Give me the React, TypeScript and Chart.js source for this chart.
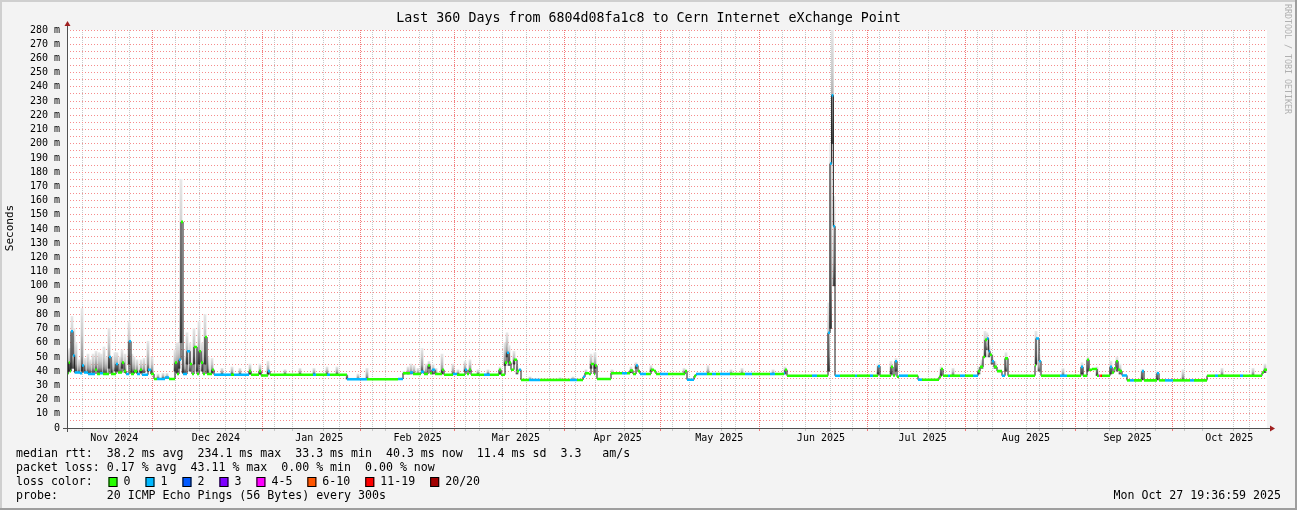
import React, { useEffect, useRef } from 'react';
import { Chart, registerables } from 'chart.js';

Chart.register(...registerables);

const WIDTH = 1297;
const HEIGHT = 510;
const FONT = '"DejaVu Sans Mono", monospace';

const TITLE = 'Last 360 Days from 6804d08fa1c8 to Cern Internet eXchange Point';
const Y_TITLE = 'Seconds';
const WATERMARK = 'RRDTOOL / TOBI OETIKER';
const STAT_LINES = [
  'median rtt:  38.2 ms avg  234.1 ms max  33.3 ms min  40.3 ms now  11.4 ms sd  3.3   am/s',
  'packet loss: 0.17 % avg  43.11 % max  0.00 % min  0.00 % now',
];
const LOSS_TITLE = 'loss color:';
const LOSS_LABELS = ['0', '1', '2', '3', '4-5', '6-10', '11-19', '20/20'];
const LOSS_COLORS = ['#26ff00', '#00b8ff', '#0059ff', '#7e00ff', '#ff00ff', '#ff5500', '#ff0000', '#a10000'];
const PROBE_LINE = 'probe:       20 ICMP Echo Pings (56 Bytes) every 300s';
const STAMP = 'Mon Oct 27 19:36:59 2025';

// time axis: days since start (Nov 1 2024 19:37), 360 days shown
const RANGE_DAYS = 360;
const START_MS = Date.UTC(2024, 10, 1, 19, 37);
const MONTH_LABELS = ['Nov 2024', 'Dec 2024', 'Jan 2025', 'Feb 2025', 'Mar 2025', 'Apr 2025',
  'May 2025', 'Jun 2025', 'Jul 2025', 'Aug 2025', 'Sep 2025', 'Oct 2025'];
const Y_MAX = 280;
const Y_STEP = 5;

// median rtt (ms) change points, step held until the next point
const medianDay = [
  0, 0.5, 0.9, 1.2, 1.8, 2.3, 3.9, 4.5, 5.1, 6.3,
  8.4, 9.0, 9.9, 10.8, 12.6, 13.2, 14.7, 15.3, 16.5, 17.1,
  17.7, 18.6, 19.2, 20.1, 21.0, 21.9, 22.5, 24.3, 25.2, 26.1,
  27.0, 29.4, 30.6, 32.4, 33.0, 33.6, 34.2, 34.8, 35.4, 36.0,
  36.9, 37.5, 38.1, 39.0, 39.6, 40.2, 40.8, 41.4, 42.0, 43.5,
  44.1, 49.2, 50.1, 54.6, 55.2, 57.6, 58.2, 60.3, 60.9, 73.8,
  74.7, 78.0, 78.9, 84.0, 90.0, 99.3, 100.8, 102.9, 103.8, 106.2,
  107.1, 108.3, 108.9, 109.5, 110.4, 112.5, 113.1, 115.8, 117.0, 119.4,
  120.0, 120.6, 121.2, 125.1, 126.9, 129.6, 130.2, 131.4, 132.0, 132.6,
  133.2, 134.1, 135.0, 135.6, 136.2, 138.6, 141.9, 150.9, 153.0, 154.8,
  155.4, 156.6, 157.2, 158.1, 158.4, 159.0, 163.2, 166.5, 168.0, 168.9,
  169.8, 170.7, 171.3, 171.9, 173.7, 175.2, 176.1, 176.7, 177.9, 180.3,
  185.4, 186.0, 188.1, 188.7, 192.0, 193.5, 194.7, 195.9, 198.9, 203.4,
  205.5, 210.9, 212.4, 215.1, 215.4, 216.0, 223.5, 225.0, 228.3, 228.9,
  229.4, 229.9, 230.4, 231.9, 236.4, 237.0, 240.9, 241.8, 243.3, 243.9,
  247.2, 247.8, 248.4, 249.0, 249.6, 252.3, 255.3, 256.5, 261.6, 262.2,
  262.8, 264.3, 264.9, 267.9, 269.4, 271.8, 273.3, 273.9, 274.8, 275.4,
  276.0, 276.5, 276.9, 277.5, 278.1, 279.0, 280.5, 281.4, 282.3, 290.4,
  290.7, 291.6, 292.2, 297.9, 300.0, 304.2, 304.8, 306.0, 306.6, 307.5,
  309.0, 309.6, 309.9, 310.2, 310.5, 312.9, 313.5, 314.1, 314.7, 315.3,
  315.9, 316.5, 318.0, 318.9, 320.1, 322.5, 323.1, 327.0, 327.6, 329.4,
  331.8, 336.9, 338.1, 342.0, 344.4, 345.3, 351.9, 352.8, 358.5, 359.1,
  360.0,
];
const medianMs = [
  38.5, 46, 40, 68, 51, 39, 38.5, 44, 39, 38,
  41, 38, 38.5, 38, 50, 38, 45, 39, 46, 40,
  38, 61, 38, 40, 38, 41, 37.5, 41, 38, 34.5,
  34.5, 35.5, 34.5, 46, 38, 48, 145, 38, 38, 54,
  45, 38, 57, 38, 54, 46, 38, 64, 38, 41,
  37.5, 37.5, 37.5, 40, 37.5, 40, 37, 40, 37.5, 37.5,
  37.5, 37.5, 37.5, 34.3, 34.3, 34.5, 38.5, 39, 38, 39.5,
  38, 44, 38.5, 41, 38, 41, 37.5, 38, 37.5, 41,
  38, 41, 37.5, 37.5, 37.5, 41, 37.5, 46, 53, 46,
  41, 48, 40, 41, 33.8, 33.8, 33.8, 33.8, 33.8, 36,
  38.5, 38, 45, 38, 44, 34.5, 38.5, 38.5, 38.5, 40.5,
  38, 44, 40, 38, 38, 41, 40, 38, 38, 38,
  40, 34, 36.5, 38, 38, 38, 38, 38, 38, 38,
  38, 38, 38, 38.5, 41, 36.8, 36.8, 36.8, 67, 186,
  234, 142, 36.8, 36.8, 36.8, 36.8, 36.8, 36.8, 43.5, 36.8,
  43, 37, 47, 36, 36.8, 36.8, 34, 34, 36, 41.5,
  36.8, 36.8, 36.8, 36.8, 36.8, 36.8, 40, 43, 50, 62,
  63, 54, 51.5, 47, 43, 40, 36.8, 49, 36.8, 44,
  63, 47, 36.8, 36.8, 36.8, 43, 36.8, 48, 41, 41.5,
  36.8, 36.8, 36.8, 36.8, 36.8, 43, 39, 42, 47, 41,
  40, 37, 33.5, 33.5, 33.5, 40, 33.5, 38.5, 33.5, 33.5,
  33.5, 33.5, 33.5, 36.8, 36.8, 36.8, 36.8, 36.8, 39, 41,
  41,
];
// lost pings (of 20) for each median step
const lostPings = [
  0, 0, 0, 1, 1, 1, 1, 1, 1, 1,
  0, 0, 1, 0, 1, 0, 1, 0, 0, 0,
  1, 1, 0, 0, 1, 0, 1, 1, 0, 0,
  1, 1, 0, 0, 0, 1, 0, 1, 1, 1,
  0, 0, 0, 0, 0, 0, 0, 0, 0, 0,
  1, 0, 1, 0, 0, 0, 0, 1, 0, 1,
  0, 1, 0, 1, 0, 1, 0, 1, 0, 1,
  0, 0, 0, 1, 0, 0, 0, 1, 0, 1,
  0, 0, 0, 1, 0, 0, 0, 0, 1, 0,
  0, 0, 0, 1, 0, 1, 0, 1, 0, 1,
  0, 0, 0, 0, 0, 0, 0, 1, 0, 0,
  0, 1, 0, 1, 0, 0, 0, 0, 1, 0,
  0, 1, 0, 1, 0, 1, 0, 1, 0, 1,
  0, 1, 0, 1, 0, 0, 1, 0, 1, 1,
  1, 1, 1, 0, 1, 0, 1, 0, 1, 0,
  0, 0, 1, 0, 1, 0, 1, 0, 0, 0,
  0, 1, 0, 1, 0, 1, 0, 0, 0, 0,
  1, 1, 0, 1, 0, 0, 1, 0, 0, 0,
  1, 1, 0, 1, 0, 1, 0, 0, 0, 0,
  0, 4, 7, 12, 0, 1, 0, 0, 0, 0,
  0, 1, 0, 1, 0, 1, 0, 1, 0, 1,
  0, 1, 0, 0, 1, 0, 1, 0, 0, 0,
  0,
];

// smoke (spread of the 20 pings) columns: day, lower and upper rtt (ms)
const smokeDay = [
  0.5, 0.9, 1.5, 2.1, 2.7, 3.6, 4.5, 5.4, 6.3, 6.9,
  7.8, 8.7, 9.6, 10.2, 11.1, 11.7, 12.6, 13.5, 14.4, 15.0,
  15.9, 16.5, 17.4, 18.6, 19.5, 20.1, 21.0, 22.2, 23.1, 24.3,
  25.5, 27.3, 28.8, 30.0, 32.4, 33.0, 33.6, 34.2, 34.8, 35.4,
  36.0, 36.9, 38.1, 39.0, 39.6, 40.5, 41.4, 42.3, 43.5, 46.5,
  49.5, 51.9, 54.9, 57.9, 60.3, 65.4, 69.9, 74.1, 78.0, 81.0,
  84.0, 87.3, 90.0, 101.1, 102.3, 103.2, 104.1, 105.3, 106.5, 107.7,
  108.6, 109.8, 110.7, 112.5, 115.8, 117.3, 119.4, 120.9, 123.3, 126.3,
  129.9, 131.4, 132.0, 132.6, 134.1, 135.0, 138.9, 147.9, 151.8, 155.7,
  157.2, 158.4, 163.5, 169.2, 170.7, 175.2, 185.1, 192.3, 199.2, 202.5,
  211.8, 215.4, 228.5, 229.1, 229.6, 230.1, 243.3, 247.2, 248.7, 262.2,
  265.8, 273.6, 274.5, 275.4, 276.0, 276.6, 277.5, 278.4, 281.7, 290.7,
  291.6, 298.8, 304.5, 306.3, 309.0, 313.2, 315.0, 315.9, 322.5, 327.0,
  334.8, 346.5, 355.8, 359.4,
];
const smokeLow = [
  40, 40, 42, 42, 40, 39, 40, 39, 39, 39,
  39, 41, 39, 39, 39, 39, 42, 39, 40, 40,
  39, 42, 39, 45, 39, 39, 39, 39, 39, 40,
  38, 35, 35, 35, 40, 39, 42, 60, 39, 39,
  45, 40, 45, 40, 45, 40, 45, 39, 39, 38,
  38, 38, 38, 38, 38, 38, 38, 38, 38, 38,
  34.5, 34.5, 34.5, 38, 38, 38, 38, 38, 40, 38,
  42, 38, 38, 38, 38, 38, 40, 40, 38, 38,
  38, 44, 50, 44, 45, 38, 34, 34, 34, 38,
  42, 42, 38, 39, 42, 40, 38, 38, 38, 38,
  38, 38, 40, 70, 200, 100, 38, 38, 40, 37,
  37, 38, 42, 50, 55, 50, 45, 42, 40, 45,
  40, 37, 38, 40, 37, 38, 40, 38, 34, 34,
  34, 37, 37, 39,
];
const smokeHigh = [
  55, 56, 78.5, 70, 60, 48, 84, 49, 52, 48,
  52, 54, 53, 52, 57, 50, 70, 50, 53, 53,
  50, 55, 52, 75, 52, 50, 48, 48, 49, 61,
  50, 38, 38.5, 38.5, 55, 60, 60, 175, 55, 50,
  67, 60, 70, 55, 75, 60, 80, 50, 49, 42,
  43, 42, 45, 45, 47, 41, 42, 42, 43, 43,
  37, 38, 42, 40, 43, 45, 44, 42, 56, 45,
  47, 45, 42, 52, 45, 41, 47, 48, 41, 41,
  43, 60, 67, 58, 54, 44, 36, 35.5, 36, 41,
  52, 53, 41, 43, 46, 44, 42, 44, 41, 42,
  41, 43, 88, 200, 281, 163, 45, 47, 49, 43,
  42, 43, 48, 68, 67, 58, 52, 47, 53, 68,
  52, 42, 46, 50, 43, 47, 50, 45, 41, 40,
  41, 42, 42, 45,
];

const MEDIAN_HALF_BAND = 0.9; // ms, half height of the loss-coloured median band

function lossColor(n: number): string {
  if (n <= 0) return LOSS_COLORS[0];
  if (n === 1) return LOSS_COLORS[1];
  if (n === 2) return LOSS_COLORS[2];
  if (n === 3) return LOSS_COLORS[3];
  if (n <= 5) return LOSS_COLORS[4];
  if (n <= 10) return LOSS_COLORS[5];
  if (n <= 19) return LOSS_COLORS[6];
  return LOSS_COLORS[7];
}

const DAY_MS = 86400000;
const dayOf = (t: number) => (t - START_MS) / DAY_MS;

function buildXTicks() {
  const ticks: any[] = [];
  const monthStarts: number[] = [];
  for (let m = 0; m < 13; m++) {
    const yy = 2024 + Math.floor((10 + m) / 12);
    const mo = (10 + m) % 12;
    const s = Date.UTC(yy, mo, 1);
    const e = Date.UTC(yy, mo + 1, 1);
    const ds = dayOf(s);
    const dm = dayOf((s + e) / 2);
    if (ds > 0 && ds < RANGE_DAYS) {
      ticks.push({ value: ds, kind: 'month' });
      monthStarts.push(ds);
    }
    if (m < MONTH_LABELS.length && dm > 0 && dm < RANGE_DAYS) {
      ticks.push({ value: dm, kind: 'label', label: MONTH_LABELS[m] });
    }
  }
  for (let t = Date.UTC(2024, 10, 3); dayOf(t) < RANGE_DAYS; t += 7 * DAY_MS) {
    const d = dayOf(t);
    if (monthStarts.some((ms) => Math.abs(ms - d) < 0.01)) continue;
    ticks.push({ value: d, kind: 'week' });
  }
  ticks.sort((a, b) => a.value - b.value);
  return ticks;
}

const RED_DOT = 'rgb(246,140,140)';
const RED_MONTH = 'rgb(240,120,120)';
const GRAY_DOT = 'rgb(200,200,200)';

const rrdPlugin = {
  id: 'rrdLook',
  beforeDraw(chart: any) {
    const { ctx, width, height, chartArea: a } = chart;
    ctx.save();
    ctx.fillStyle = '#f3f3f3';
    ctx.fillRect(0, 0, width, height);
    ctx.fillStyle = '#cfcfcf';
    ctx.fillRect(0, 0, width, 2);
    ctx.fillRect(0, 0, 2, height);
    ctx.fillStyle = '#9e9e9e';
    ctx.fillRect(0, height - 2, width, 2);
    ctx.fillRect(width - 2, 0, 2, height);
    ctx.fillStyle = '#ffffff';
    ctx.fillRect(a.left, a.top, a.right - a.left, a.bottom - a.top);
    ctx.restore();
  },
  afterDatasetsDraw(chart: any) {
    const { ctx, chartArea: a } = chart;
    ctx.save();
    ctx.strokeStyle = '#505050';
    ctx.lineWidth = 1;
    ctx.beginPath();
    ctx.moveTo(a.left - 4, a.bottom + 0.5);
    ctx.lineTo(a.right + 4, a.bottom + 0.5);
    ctx.moveTo(a.left + 0.5, a.bottom + 4);
    ctx.lineTo(a.left + 0.5, a.top - 5);
    ctx.stroke();
    ctx.fillStyle = '#a02020';
    ctx.beginPath();
    ctx.moveTo(a.left + 0.5, a.top - 9);
    ctx.lineTo(a.left - 2.5, a.top - 4);
    ctx.lineTo(a.left + 3.5, a.top - 4);
    ctx.closePath();
    ctx.fill();
    ctx.beginPath();
    ctx.moveTo(a.right + 8, a.bottom + 0.5);
    ctx.lineTo(a.right + 3, a.bottom - 2.5);
    ctx.lineTo(a.right + 3, a.bottom + 3.5);
    ctx.closePath();
    ctx.fill();
    ctx.restore();
  },
  afterDraw(chart: any) {
    const { ctx, width } = chart;
    ctx.save();
    ctx.fillStyle = '#000';
    ctx.textBaseline = 'middle';
    // title
    ctx.font = `13.3px ${FONT}`;
    ctx.textAlign = 'center';
    ctx.fillText(TITLE, width / 2, 19);
    // y title
    ctx.font = `11px ${FONT}`;
    ctx.save();
    ctx.translate(10, 228);
    ctx.rotate(-Math.PI / 2);
    ctx.fillText(Y_TITLE, 0, 0);
    ctx.restore();
    // watermark
    ctx.save();
    ctx.font = `8.3px ${FONT}`;
    ctx.fillStyle = '#b0b0b0';
    ctx.textAlign = 'left';
    ctx.translate(1287, 4);
    ctx.rotate(Math.PI / 2);
    ctx.fillText(WATERMARK, 0, 0);
    ctx.restore();
    // legend lines
    ctx.font = `11.6px ${FONT}`;
    ctx.textAlign = 'left';
    ctx.fillText(STAT_LINES[0], 16, 454);
    ctx.fillText(STAT_LINES[1], 16, 468);
    ctx.fillText(LOSS_TITLE, 16, 482);
    let x = 108.5;
    LOSS_LABELS.forEach((lbl, i) => {
      ctx.fillStyle = LOSS_COLORS[i];
      ctx.fillRect(x, 477, 9, 10);
      ctx.strokeStyle = '#000';
      ctx.lineWidth = 1;
      ctx.strokeRect(x + 0.5, 477.5, 8, 9);
      ctx.fillStyle = '#000';
      ctx.fillText(lbl, x + 15, 482);
      x += 30 + ctx.measureText(lbl).width;
    });
    ctx.fillText(PROBE_LINE, 16, 496);
    ctx.textAlign = 'right';
    ctx.fillText(STAMP, 1281, 496);
    ctx.restore();
  },
};

function smokeFill(c: any) {
  const chart = c.chart;
  const raw = c.raw;
  if (!raw || !chart.scales || !chart.scales.y) return '#cccccc';
  const ys = chart.scales.y;
  const y0 = ys.getPixelForValue(raw.y[0]);
  const y1 = ys.getPixelForValue(raw.y[1]);
  if (!isFinite(y0) || !isFinite(y1) || Math.abs(y0 - y1) < 0.5) return '#cccccc';
  const g = chart.ctx.createLinearGradient(0, y0, 0, y1);
  g.addColorStop(0, '#4a4a4a');
  g.addColorStop(0.25, '#9a9a9a');
  g.addColorStop(0.6, '#c8c8c8');
  g.addColorStop(1, '#e8e8e8');
  return g;
}

export default function App() {
  const ref = useRef<HTMLCanvasElement>(null);
  useEffect(() => {
    const canvas = ref.current;
    if (!canvas) return;
    const medianPts = medianDay.map((d, i) => ({ x: d, y: medianMs[i] }));
    const bandLow = medianDay.map((d, i) => ({ x: d, y: medianMs[i] - MEDIAN_HALF_BAND }));
    const bandHigh = medianDay.map((d, i) => ({ x: d, y: medianMs[i] + MEDIAN_HALF_BAND }));
    const smokePts = smokeDay.map((d, i) => ({ x: d, y: [smokeLow[i], smokeHigh[i]] }));
    const xTicks = buildXTicks();

    const chart = new Chart(canvas, {
      type: 'line',
      data: {
        datasets: [
          {
            type: 'bar',
            data: smokePts as any,
            backgroundColor: smokeFill as any,
            borderWidth: 0,
            barThickness: 2,
            grouped: false,
            order: 3,
          } as any,
          {
            type: 'line',
            data: medianPts,
            borderColor: '#1a1a1a',
            borderWidth: 1,
            stepped: true,
            pointRadius: 0,
            fill: false,
            order: 1,
          },
          {
            type: 'line',
            data: bandLow,
            borderColor: 'transparent',
            borderWidth: 0,
            stepped: true,
            pointRadius: 0,
            fill: false,
            order: 4,
          },
          {
            type: 'line',
            data: bandHigh,
            borderColor: 'transparent',
            borderWidth: 0,
            backgroundColor: LOSS_COLORS[0],
            stepped: true,
            pointRadius: 0,
            fill: '-1',
            order: 0,
            segment: {
              backgroundColor: (c: any) => lossColor(lostPings[c.p0DataIndex]),
            },
          } as any,
        ],
      },
      options: {
        animation: false,
        responsive: false,
        devicePixelRatio: 1,
        events: [],
        layout: { padding: { left: 0, top: 30, right: 30, bottom: 0 } },
        plugins: {
          legend: { display: false },
          tooltip: { enabled: false },
          title: { display: false },
        },
        scales: {
          x: {
            type: 'linear',
            min: 0,
            max: RANGE_DAYS,
            offset: false,
            afterBuildTicks: (s: any) => { s.ticks = xTicks.map((t) => ({ ...t })); },
            afterFit: (s: any) => { s.height = 82; },
            grid: {
              color: (c: any) => {
                const k = c.tick && c.tick.kind;
                if (k === 'month') return RED_MONTH;
                if (k === 'week') return GRAY_DOT;
                return 'transparent';
              },
              lineWidth: 1,
              drawTicks: true,
              tickLength: 3,
            },
            border: { display: false, dash: [1, 1] },
            ticks: {
              autoSkip: false,
              maxRotation: 0,
              minRotation: 0,
              padding: 1,
              color: '#000',
              font: { family: FONT, size: 10 },
              callback: (_v: any, i: number, ticks: any[]) => (ticks[i] && ticks[i].label) || '',
            },
          },
          y: {
            type: 'linear',
            min: 0,
            max: Y_MAX,
            afterFit: (s: any) => { s.width = 67; },
            grid: { color: RED_DOT, lineWidth: 1, drawTicks: false },
            border: { display: false, dash: [1, 2] },
            ticks: {
              stepSize: Y_STEP,
              autoSkip: false,
              padding: 7,
              color: '#000',
              font: { family: FONT, size: 10 },
              callback: (v: any) => {
                const n = Number(v);
                if (n % 10 !== 0) return '';
                return n === 0 ? '0' : `${n} m`;
              },
            },
          },
        },
      },
      plugins: [rrdPlugin],
    } as any);
    return () => chart.destroy();
  }, []);

  return (
    <div style={{ position: 'fixed', left: 0, top: 0, width: WIDTH, height: HEIGHT }}>
      <canvas ref={ref} width={WIDTH} height={HEIGHT} style={{ display: 'block' }} />
    </div>
  );
}
